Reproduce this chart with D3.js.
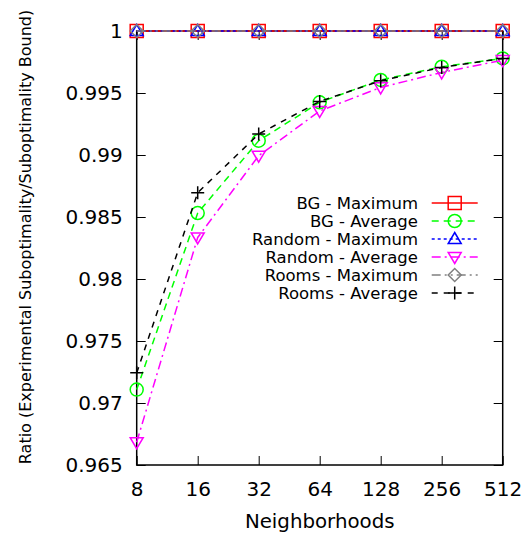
<!DOCTYPE html>
<html>
<head>
<meta charset="utf-8">
<script src="https://cdn.jsdelivr.net/npm/d3@7"></script>
<style>
body { margin: 0; background: #fff; }
text { font-family: "DejaVu Sans", sans-serif; fill: #000; }
</style>
</head>
<body>
<svg id="chart" width="531" height="535"></svg>
<script>
var neighborhoods = [8, 16, 32, 64, 128, 256, 512];
var bg_max     = [1, 1, 1, 1, 1, 1, 1];
var bg_avg     = [0.97108, 0.98532, 0.99115, 0.99425, 0.99605, 0.99712, 0.99779];
var random_max = [1, 1, 1, 1, 1, 1, 1];
var random_avg = [0.96684, 0.98335, 0.98994, 0.99355, 0.99545, 0.99666, 0.99765];
var rooms_max  = [1, 1, 1, 1, 1, 1, 1];
var rooms_avg  = [0.97243, 0.98696, 0.99169, 0.99432, 0.99599, 0.99706, 0.99779];
var y_ticks = [0.965, 0.97, 0.975, 0.98, 0.985, 0.99, 0.995, 1];
var y_tick_labels = ['0.965', '0.97', '0.975', '0.98', '0.985', '0.99', '0.995', '1'];

var series = [
	{name: 'BG - Maximum',     values: bg_max,     color: '#ff0000', dash: null,           marker: 'square'},
	{name: 'BG - Average',     values: bg_avg,     color: '#00ff00', dash: '7,5',          marker: 'circle'},
	{name: 'Random - Maximum', values: random_max, color: '#0000ff', dash: '3,3',          marker: 'triangle'},
	{name: 'Random - Average', values: random_avg, color: '#ff00ff', dash: '9,4,2,4',      marker: 'triangle-down'},
	{name: 'Rooms - Maximum',  values: rooms_max,  color: '#808080', dash: '9,4,2,4,2,4',  marker: 'diamond'},
	{name: 'Rooms - Average',  values: rooms_avg,  color: '#000000', dash: '6,6',          marker: 'plus'}
];

var svg = d3.select('#chart');
var width = +svg.attr('width'), height = +svg.attr('height');
var plot_left = 136.7, plot_right = 502.7, plot_top = 31, plot_bottom = 465;

var x = d3.scaleLog().base(2).domain([8, 512]).range([plot_left, plot_right]);
var y = d3.scaleLinear().domain([0.965, 1]).range([plot_bottom, plot_top]);

// axes (ticks point inward, mirrored on the opposite side)
var ax_left = svg.append('g').attr('transform', 'translate(' + plot_left + ',0)')
	.call(d3.axisLeft(y).tickValues(y_ticks).tickFormat((d, i) => y_tick_labels[i]).tickSizeInner(-9).tickSizeOuter(0).tickPadding(14));
var ax_right = svg.append('g').attr('transform', 'translate(' + plot_right + ',0)')
	.call(d3.axisRight(y).tickValues(y_ticks).tickFormat('').tickSizeInner(-9).tickSizeOuter(0));
var ax_bottom = svg.append('g').attr('transform', 'translate(0,' + plot_bottom + ')')
	.call(d3.axisBottom(x).tickValues(neighborhoods).tickFormat(d3.format('d')).tickSizeInner(-9).tickSizeOuter(0).tickPadding(17));
var ax_top = svg.append('g').attr('transform', 'translate(0,' + plot_top + ')')
	.call(d3.axisTop(x).tickValues(neighborhoods).tickFormat('').tickSizeInner(-9).tickSizeOuter(0));

[ax_left, ax_right, ax_bottom, ax_top].forEach(function(g) {
	g.select('.domain').remove();
	g.selectAll('line').attr('stroke', '#000').attr('stroke-width', 1);
	g.selectAll('text').attr('font-family', 'DejaVu Sans').attr('font-size', 20).attr('fill', '#000');
});

svg.append('rect')
	.attr('x', plot_left).attr('y', plot_top)
	.attr('width', plot_right - plot_left).attr('height', plot_bottom - plot_top)
	.attr('fill', 'none').attr('stroke', '#000').attr('stroke-width', 1.5);

// axis titles
svg.append('text')
	.attr('x', (plot_left + plot_right) / 2).attr('y', 528)
	.attr('text-anchor', 'middle').attr('font-size', 19.8)
	.text('Neighborhoods');
svg.append('text')
	.attr('transform', 'translate(31,237) rotate(-90)')
	.attr('text-anchor', 'middle').attr('font-size', 16)
	.text('Ratio (Experimental Suboptimality/Suboptimality Bound)');

function drawMarker(g, type, color) {
	var s = 6.5;
	if (type == 'square')
		g.append('rect').attr('x', -s).attr('y', -s).attr('width', 2 * s).attr('height', 2 * s);
	else if (type == 'circle')
		g.append('circle').attr('r', s);
	else if (type == 'triangle')
		g.append('path').attr('d', 'M0,' + (-s) + 'L' + s + ',' + (s * 0.7) + 'L' + (-s) + ',' + (s * 0.7) + 'Z');
	else if (type == 'triangle-down')
		g.append('path').attr('d', 'M0,' + s + 'L' + s + ',' + (-s * 0.7) + 'L' + (-s) + ',' + (-s * 0.7) + 'Z');
	else if (type == 'diamond')
		g.append('path').attr('d', 'M0,' + (-s) + 'L' + s + ',0L0,' + s + 'L' + (-s) + ',0Z');
	else if (type == 'plus')
		g.append('path').attr('d', 'M' + (-s) + ',0H' + s + 'M0,' + (-s) + 'V' + s);
	g.selectAll('*').attr('fill', 'none').attr('stroke', color).attr('stroke-width', 1.5);
}

var line = d3.line()
	.x(d => x(d[0]))
	.y(d => y(d[1]));

series.forEach(function(s) {
	var pts = neighborhoods.map((n, i) => [n, s.values[i]]);
	svg.append('path').datum(pts)
		.attr('d', line)
		.attr('fill', 'none')
		.attr('stroke', s.color)
		.attr('stroke-width', 1.5)
		.attr('stroke-dasharray', s.dash);
	pts.forEach(function(p) {
		var g = svg.append('g').attr('transform', 'translate(' + x(p[0]) + ',' + y(p[1]) + ')');
		drawMarker(g, s.marker, s.color);
	});
});

// legend
var legend_x = 418, legend_y = 203, row = 18;
series.forEach(function(s, i) {
	var ly = legend_y + i * row;
	svg.append('text')
		.attr('x', legend_x).attr('y', ly).attr('dy', '0.35em')
		.attr('text-anchor', 'end').attr('font-size', 16.5)
		.text(s.name);
	svg.append('line')
		.attr('x1', 431.7).attr('x2', 477.7).attr('y1', ly).attr('y2', ly)
		.attr('stroke', s.color).attr('stroke-width', 1.5)
		.attr('stroke-dasharray', s.dash);
	var g = svg.append('g').attr('transform', 'translate(454.7,' + ly + ')');
	drawMarker(g, s.marker, s.color);
});
</script>
</body>
</html>
